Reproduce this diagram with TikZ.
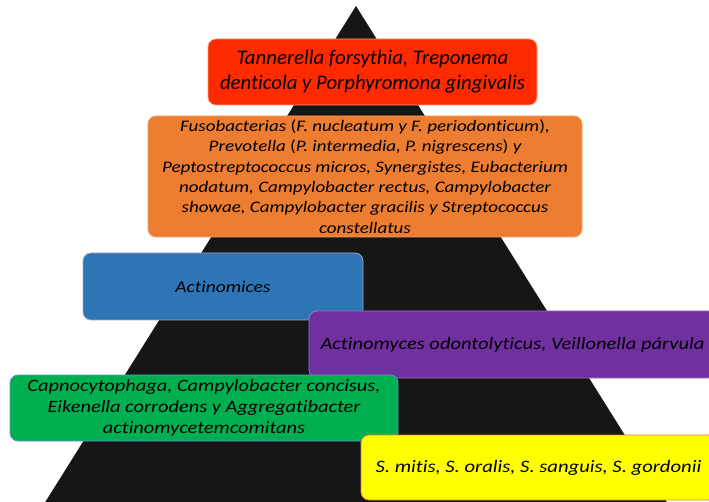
\documentclass[tikz,border=0pt]{standalone}
\usepackage{fontspec}
\setmainfont{Carlito}[Ligatures=NoCommon]
\newfontfamily\widefont{Carlito}[Ligatures=NoCommon, FakeStretch=1.18]
\usepackage{tikz}
\usetikzlibrary{positioning}
\definecolor{trifill}{HTML}{161616}
\definecolor{redfill}{HTML}{FF2A00}
\definecolor{redline}{HTML}{F4A070}
\definecolor{orangefill}{HTML}{ED7D31}
\definecolor{orangeline}{HTML}{F0A070}
\definecolor{bluefill}{HTML}{2E75B6}
\definecolor{blueline}{HTML}{9AA8B8}
\definecolor{purplefill}{HTML}{7030A0}
\definecolor{purpleline}{HTML}{A070C8}
\definecolor{greenfill}{HTML}{00B050}
\definecolor{greenline}{HTML}{5B9BD5}
\definecolor{yellowfill}{HTML}{FFFF00}
\definecolor{yellowline}{HTML}{ED7D31}
\tikzset{x=1pt, y=-1pt, every node/.style={inner sep=0pt, align=center},
  level/.style={rectangle, rounded corners=8pt, line width=0.8pt, font=\widefont\fontsize{16.1}{20.3}\selectfont\itshape}}

\begin{document}
\begin{tikzpicture}
	\useasboundingbox (0,0) rectangle (709,502);
	\coordinate (Apex) at (356,6);
	\coordinate (Base L) at (44,504);
	\coordinate (Base R) at (668,504);
	\fill[trifill] (Apex) -- (Base L) -- (Base R) -- cycle;
	\node[level, fill=redfill, draw=redline, minimum width=329pt, minimum height=66pt, font=\fontsize{20.8}{25}\selectfont\itshape] at (372.5,72) (Tannerella) {Tannerella forsythia, Treponema\\ denticola y Porphyromona gingivalis};
	\node[level, fill=orangefill, draw=orangeline, minimum width=434pt, minimum height=121pt] at (365,176.5) (Fuso) {Fusobacterias \textup{(}F. nucleatum y F. periodonticum\textup{)},\\ Prevotella \textup{(}P. intermedia, P. nigrescens\textup{)} y\\ Peptostreptococcus micros, Synergistes, Eubacterium\\ nodatum, Campylobacter rectus, Campylobacter\\ showae, Campylobacter gracilis y Streptococcus\\ constellatus};
	\node[level, fill=bluefill, draw=blueline, minimum width=280pt, minimum height=67pt, font=\widefont\fontsize{16.5}{21}\selectfont\itshape] at (223,286.5) (Actinomices) {Actinomices};
	\node[level, fill=purplefill, draw=purpleline, minimum width=407pt, minimum height=67pt, font=\widefont\fontsize{17.4}{21}\selectfont\itshape] at (512.5,344.5) (Veillonella) {Actinomyces odontolyticus, Veillonella párvula};
	\node[level, fill=greenfill, draw=greenline, minimum width=388pt, minimum height=66pt, font=\widefont\fontsize{17.3}{21}\selectfont\itshape] at (204,408) (Capno) {Capnocytophaga, Campylobacter concisus,\\ Eikenella corrodens y Aggregatibacter\\ actinomycetemcomitans};
	\node[level, fill=yellowfill, draw=yellowline, minimum width=355pt, minimum height=65pt, font=\widefont\fontsize{17.5}{21}\selectfont\itshape] at (538.5,467.5) (Strepto) {S. mitis, S. oralis, S. sanguis, S. gordonii};
\end{tikzpicture}
\end{document}
